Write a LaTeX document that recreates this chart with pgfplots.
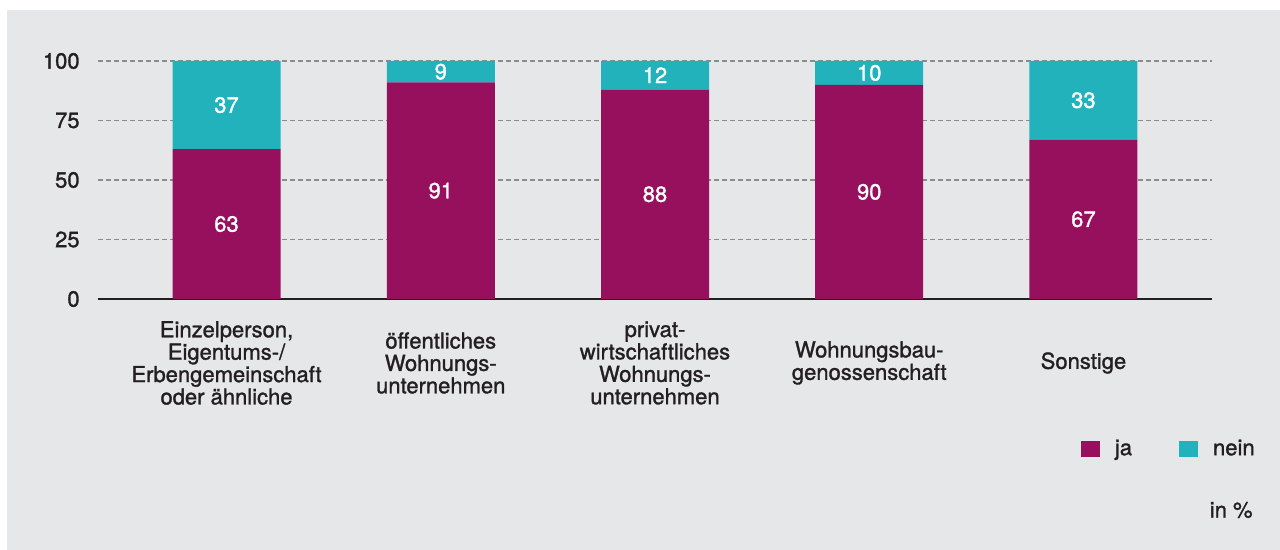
\documentclass[border=0pt]{standalone}
\usepackage{pgfplots}
\pgfplotsset{compat=1.18}
\usepackage{fontspec}
\setmainfont{TeX Gyre Heros}[RawFeature={embolden=1.3}]
\definecolor{bg}{RGB}{230,231,233}
\definecolor{ja}{RGB}{150,16,94}
\definecolor{nein}{RGB}{34,178,188}
\definecolor{txt}{RGB}{35,31,32}
\definecolor{gridc}{RGB}{140,140,140}
\newcommand{\lf}{\fontsize{11pt}{11.2pt}\selectfont}
\begin{document}
\begin{tikzpicture}[x=1pt,y=1pt]
\useasboundingbox[fill=white] (-49,-125.5) rectangle (591,149.5);
\fill[bg] (-45.5,-125.5) rectangle (591,144.5);
\begin{axis}[
  at={(0,0)}, anchor=south west,
  scale only axis, width=557pt, height=119pt,
  ybar stacked, bar width=54pt,
  xmin=-0.6, xmax=4.6, ymin=0, ymax=100,
  xtick=data,
  xticklabels={{Einzelperson,\\Eigentums-/\\Erbengemeinschaft\\oder ähnliche},{öffentliches\\Wohnungs-\\unternehmen},{privat-\\wirtschaftliches\\Wohnungs-\\unternehmen},{Wohnungsbau-\\genossenschaft},{Sonstige}},
  ytick={0,25,50,75,100},
  major tick length=0pt,
  axis line style={draw=none},
  ymajorgrids,
  major grid style={gridc, line width=0.6pt, dash pattern=on 2.5pt off 1.5pt},
  extra y ticks={0}, extra y tick labels={},
  extra y tick style={major grid style={solid, txt, line width=0.8pt}},
  /pgf/number format/assume math mode=true,
  tick label style={text=txt, font=\lf},
  yticklabel style={anchor=east, inner sep=0pt, xshift=-9pt},
  xticklabel style={anchor=center, align=center, inner sep=0pt, yshift=-32pt},
  legend style={draw=none, fill=none, at={(1.0476,-0.63)}, anchor=east,
    legend columns=2, font=\lf, text=txt,
    /tikz/every odd column/.append style={column sep=5.5pt},
    /tikz/every even column/.append style={column sep=21.5pt}},
  legend image code/.code={\fill[#1] (0pt,-4pt) rectangle (9.5pt,4pt);},
]
\addplot[fill=ja, draw=none] coordinates {(0,63) (1,91) (2,88) (3,90) (4,67)};
\addplot[fill=nein, draw=none] coordinates {(0,37) (1,9) (2,12) (3,10) (4,33)};
\legend{ja,nein}
\coordinate (a0) at (axis cs:0,31.5);
\coordinate (b0) at (axis cs:0,81.5);
\coordinate (a1) at (axis cs:1,45.5);
\coordinate (b1) at (axis cs:1,95.5);
\coordinate (a2) at (axis cs:2,44);
\coordinate (b2) at (axis cs:2,94);
\coordinate (a3) at (axis cs:3,45);
\coordinate (b3) at (axis cs:3,95);
\coordinate (a4) at (axis cs:4,33.5);
\coordinate (b4) at (axis cs:4,83.5);
\end{axis}
\foreach \c/\t in {a0/63,b0/37,a1/91,b1/9,a2/88,b2/12,a3/90,b3/10,a4/67,b4/33}{
  \node[text=white, font=\lf] at (\c) {\t};
}
\node[anchor=east, text=txt, inner sep=0pt, font=\lf] at (577.5,-105.5) {in \%};
\end{tikzpicture}
\end{document}
